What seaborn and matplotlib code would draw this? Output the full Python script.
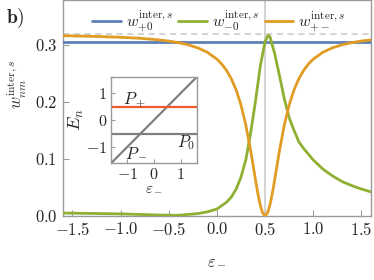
import numpy as np
import pandas as pd
import matplotlib
matplotlib.use("Agg")
import matplotlib.pyplot as plt
import matplotlib.ticker as mticker
import seaborn as sns

# ===================== DATA =====================
eps_orange = [-1.6, -1.4, -1.2, -1.0, -0.8, -0.6, -0.5, -0.4, -0.3, -0.2, -0.1, 0.0, 0.05,
              0.1, 0.15, 0.2, 0.25, 0.3, 0.35, 0.4, 0.425, 0.45, 0.475, 0.5, 0.525, 0.55,
              0.575, 0.6, 0.65, 0.7, 0.75, 0.8, 0.85, 0.9, 0.95, 1.0, 1.1, 1.2, 1.3, 1.4,
              1.5, 1.6]
w_pm = [0.3155, 0.3148, 0.3139, 0.3127, 0.3110, 0.3081, 0.3061, 0.3033, 0.2996, 0.2943,
        0.2865, 0.2744, 0.2658, 0.2546, 0.2399, 0.2204, 0.1941, 0.1592, 0.1146, 0.0637,
        0.0392, 0.0187, 0.0049, 0.0, 0.0049, 0.0187, 0.0392, 0.0637, 0.1146, 0.1592,
        0.1941, 0.2204, 0.2399, 0.2546, 0.2658, 0.2744, 0.2865, 0.2943, 0.2996, 0.3033,
        0.3061, 0.3081]

eps_green = [-1.6, -1.4, -1.2, -1.0, -0.8, -0.6, -0.4, -0.2, -0.1, 0.0, 0.1, 0.15, 0.2,
             0.25, 0.3, 0.35, 0.4, 0.45, 0.5, 0.53, 0.55, 0.6, 0.65, 0.7, 0.75, 0.8, 0.85,
             0.9, 1.0, 1.1, 1.2, 1.3, 1.4, 1.5, 1.6]
w_m0 = [0.005, 0.0045, 0.004, 0.0035, 0.0025, 0.0015, 0.001, 0.004, 0.007, 0.012, 0.024,
        0.033, 0.047, 0.068, 0.098, 0.145, 0.2, 0.262, 0.305, 0.316, 0.314, 0.284, 0.245,
        0.205, 0.172, 0.15, 0.13, 0.118, 0.098, 0.082, 0.07, 0.06, 0.053, 0.047, 0.042]

eps_blue = [-1.6, 1.6]
w_p0 = [0.304, 0.304]

w_max = 0.318   # dashed reference level
eps_res = 0.5   # vertical marker

# inset: energy levels
eps_in = [-1.6, 1.6]
E_plus = [0.5, 0.5]
E_zero = [-0.5, -0.5]
E_minus = [-1.6, 1.6]

# ===================== STYLE =====================
sns.set_theme(style="ticks")
plt.rcParams["font.family"] = ["serif"]
plt.rcParams["font.serif"] = ["cmr10", "DejaVu Serif"]
plt.rcParams["mathtext.fontset"] = "cm"

BLUE, GREEN, ORANGE = "#5E81B5", "#8FB032", "#E19C24"
RED, GRAY = "#F05A2B", "#808080"
SPINE = "#9a9a9a"


def math_fmt(decimals):
    # tick labels as mathtext so they come out in Computer Modern
    return mticker.FuncFormatter(lambda v, p: rf"${v:.{decimals}f}$")


fig = plt.figure(figsize=(3.74, 2.8), dpi=100)
ax = fig.add_axes([0.168, 0.229, 0.824, 0.771])

ax.axvline(eps_res, color="#c8c8c8", lw=1.1, zorder=1)
ax.axhline(w_max, color="#c8c8c8", lw=1.1, ls=(0, (4, 3)), zorder=1)

sns.lineplot(x=eps_blue, y=w_p0, ax=ax, color=BLUE, lw=2,
             label=r"$w^{\mathrm{inter},s}_{+0}$", zorder=3)
sns.lineplot(x=eps_green, y=w_m0, ax=ax, color=GREEN, lw=2,
             label=r"$w^{\mathrm{inter},s}_{-0}$", zorder=4)
sns.lineplot(x=eps_orange, y=w_pm, ax=ax, color=ORANGE, lw=2,
             label=r"$w^{\mathrm{inter},s}_{+-}$", zorder=4)

ax.set_xlim(-1.6, 1.6)
ax.set_ylim(0, 0.378)
ax.set_xticks([-1.5, -1.0, -0.5, 0.0, 0.5, 1.0, 1.5])
ax.set_yticks([0.0, 0.1, 0.2, 0.3])
ax.xaxis.set_major_formatter(math_fmt(1))
ax.yaxis.set_major_formatter(math_fmt(1))
ax.tick_params(direction="in", length=4, width=0.8, color=SPINE, labelsize=12,
               pad=4)
for s in ax.spines.values():
    s.set_color(SPINE)
    s.set_linewidth(1.0)

ax.set_xlabel(r"$\varepsilon_-$", fontsize=12, color="#333333", labelpad=10)
ax.set_ylabel(r"$w^{\mathrm{inter},s}_{nm}$", fontsize=12, color="#333333")
ax.yaxis.set_label_coords(-0.11, 0.61)

leg = ax.legend(loc="upper center", bbox_to_anchor=(0.506, 1.03), ncol=3,
                frameon=False, fontsize=11.5, handlelength=1.8, handletextpad=0.3,
                columnspacing=0.35)

fig.text(0.015, 0.975, r"$\mathbf{b)}$", fontsize=14, va="top", ha="left")

# ===================== INSET =====================
axi = fig.add_axes([0.297, 0.417, 0.229, 0.308])
sns.lineplot(x=eps_in, y=E_minus, ax=axi, color=GRAY, lw=1.6)
sns.lineplot(x=eps_in, y=E_zero, ax=axi, color=GRAY, lw=1.6)
sns.lineplot(x=eps_in, y=E_plus, ax=axi, color=RED, lw=1.6)
axi.set_xlim(-1.6, 1.6)
axi.set_ylim(-1.6, 1.6)
axi.set_xticks([-1, 0, 1])
axi.set_yticks([-1, 0, 1])
axi.xaxis.set_major_formatter(math_fmt(0))
axi.yaxis.set_major_formatter(math_fmt(0))
axi.tick_params(direction="in", length=3, width=0.8, color=SPINE, labelsize=11.5,
                pad=3)
for s in axi.spines.values():
    s.set_color(SPINE)
    s.set_linewidth(1.0)
axi.set_xlabel(r"$\varepsilon_-$", fontsize=11, color="#333333", labelpad=-1)
axi.set_ylabel(r"$E_n$", fontsize=13, labelpad=0)
axi.text(-0.74, 0.75, r"$P_+$", fontsize=12, ha="center", va="center")
axi.text(-0.66, -1.2, r"$P_-$", fontsize=12, ha="center", va="center")
axi.text(1.19, -0.82, r"$P_0$", fontsize=12, ha="center", va="center")

fig.savefig("out.png", dpi=100)
